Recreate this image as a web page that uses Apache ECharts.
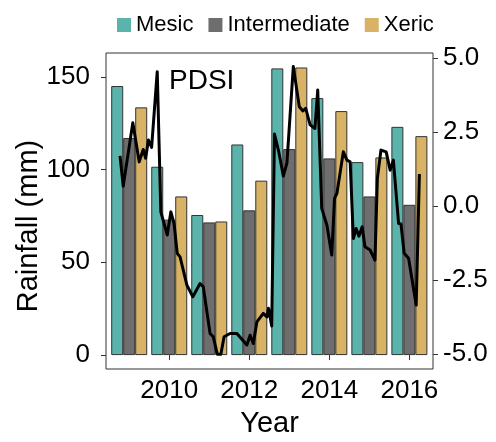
<!DOCTYPE html>
<html>
<head>
<meta charset="utf-8">
<script src="https://cdn.jsdelivr.net/npm/echarts@6/dist/echarts.min.js"></script>
<style>
html,body{margin:0;padding:0;background:#fff;}
#chart{width:496px;height:442px;}
</style>
</head>
<body>
<div id="chart"></div>
<script>
const years = [2009, 2010, 2011, 2012, 2013, 2014, 2015, 2016];
const mesic = [145, 101.5, 75.5, 113.5, 154.5, 138.5, 104, 123];
const intermediate = [117, 73, 71.5, 78, 111, 106, 85.5, 81];
const xeric = [133.5, 85.5, 72, 94, 155, 131.5, 106.5, 118];

const pdsiYear = [2008.77, 2008.85, 2009.09, 2009.25, 2009.35, 2009.41, 2009.48, 2009.56, 2009.70, 2009.79,
  2009.95, 2010.04, 2010.12, 2010.20, 2010.27, 2010.44, 2010.59, 2010.77, 2010.85, 2011.02,
  2011.10, 2011.20, 2011.29, 2011.37, 2011.52, 2011.69, 2011.94, 2012.02, 2012.10, 2012.19,
  2012.35, 2012.44, 2012.48, 2012.56, 2012.63, 2012.74, 2012.85, 2012.94, 2013.10, 2013.25,
  2013.34, 2013.41, 2013.52, 2013.64, 2013.71, 2013.81, 2013.94, 2014.06, 2014.13, 2014.19,
  2014.35, 2014.44, 2014.52, 2014.60, 2014.67, 2014.74, 2014.82, 2014.89, 2015.02, 2015.14,
  2015.20, 2015.29, 2015.42, 2015.52, 2015.60, 2015.73, 2015.79, 2015.87, 2015.98, 2016.17,
  2016.25];
const pdsiValue = [1.70, 0.68, 2.82, 1.50, 1.92, 1.62, 2.24, 1.99, 4.55, -0.19,
  -0.97, -0.19, -0.58, -1.59, -1.71, -2.66, -3.06, -2.61, -2.72, -4.30,
  -4.41, -5.0, -5.0, -4.41, -4.30, -4.30, -4.69, -4.36, -4.64, -3.91,
  -3.62, -3.74, -3.45, -4.05, 2.44, 1.82, 1.02, 1.46, 4.72, 3.36,
  3.22, 3.31, 2.75, 2.63, 3.93, -0.07, -0.64, -1.65, 0.27, 0.44,
  1.84, 1.56, 1.50, -1.09, -0.75, -1.01, -0.69, -1.37, -1.48, -1.82,
  0.94, 1.90, 1.84, 1.22, 1.56, -0.58, -0.60, -1.59, -1.76, -3.34,
  1.09];

const xTicks = [2010, 2012, 2014, 2016];
const rainTicks = [0, 50, 100, 150];
const pdsiTicks = [-5, -2.5, 0, 2.5, 5];

const FONT = "'Liberation Sans', Arial, Helvetica, sans-serif";
const chart = echarts.init(document.getElementById('chart'), null, {renderer: 'canvas'});

function barSeries(name, vals, color) {
  return {
    name: name, type: 'bar', xAxisIndex: 0, yAxisIndex: 0,
    barWidth: 12, barGap: '0%',
    itemStyle: {color: color, borderColor: '#333333', borderWidth: 1},
    data: years.map((y, i) => [y, vals[i]]),
    z: 2
  };
}

const option = {
  animation: false,
  backgroundColor: '#ffffff',
  textStyle: {fontFamily: FONT},
  grid: {left: 106, right: 63, top: 53, bottom: 73, containLabel: false, outerBoundsMode: 'none',
    show: true, borderColor: '#333333', borderWidth: 1, backgroundColor: 'transparent'},
  legend: {
    left: 112, top: 9,
    itemWidth: 14, itemHeight: 14, itemGap: 15,
    itemStyle: {borderWidth: 0},
    textStyle: {fontSize: 22, color: '#000', fontFamily: FONT},
    data: [
      {name: 'Mesic', icon: 'rect'},
      {name: 'Intermediate', icon: 'rect'},
      {name: 'Xeric', icon: 'rect'}
    ]
  },
  title: {
    text: 'PDSI', left: 164, top: 62,
    textStyle: {fontSize: 28, fontWeight: 'normal', color: '#000', fontFamily: FONT}
  },
  graphic: [{
    type: 'text', x: 29, y: 226, rotation: Math.PI / 2,
    style: {text: 'Rainfall (mm)', font: "29px 'Liberation Sans', Arial, sans-serif", fill: '#000',
      align: 'center', verticalAlign: 'middle'}
  }],
  xAxis: {
    type: 'value', min: 2008.42, max: 2016.59,
    splitLine: {show: false},
    axisLine: {show: false},
    axisTick: {show: true, length: 5, lineStyle: {color: '#333333'}, customValues: xTicks},
    axisLabel: {fontSize: 26, color: '#000', margin: 9, customValues: xTicks, formatter: v => String(v)},
    name: 'Year', nameLocation: 'middle', nameGap: 40,
    nameTextStyle: {fontSize: 29, color: '#000', fontFamily: FONT}
  },
  yAxis: [
    {
      type: 'value', min: -7.5, max: 162.8, position: 'left',
      splitLine: {show: false},
      axisLine: {show: false},
      axisTick: {show: true, length: 5, lineStyle: {color: '#333333'}, customValues: rainTicks},
      axisLabel: {fontSize: 26, color: '#000', margin: 16, customValues: rainTicks}
    },
    {
      type: 'value', min: -5.5, max: 5.18, position: 'right',
      splitLine: {show: false},
      axisLine: {show: false},
      axisTick: {show: true, length: 5, lineStyle: {color: '#333333'}, customValues: pdsiTicks},
      axisLabel: {fontSize: 26, color: '#000', margin: 10, customValues: pdsiTicks, formatter: v => v.toFixed(1)}
    }
  ],
  color: ['#5ab4ac', '#6e6e6e', '#d8b365'],
  series: [
    barSeries('Mesic', mesic, '#5ab4ac'),
    barSeries('Intermediate', intermediate, '#6e6e6e'),
    barSeries('Xeric', xeric, '#d8b365'),
    {
      name: 'PDSI', type: 'line', xAxisIndex: 0, yAxisIndex: 1,
      showSymbol: false, symbol: 'none',
      lineStyle: {color: '#000000', width: 3, join: 'round'},
      data: pdsiYear.map((x, i) => [x, pdsiValue[i]]),
      z: 5
    }
  ]
};
chart.setOption(option);
</script>
</body>
</html>
